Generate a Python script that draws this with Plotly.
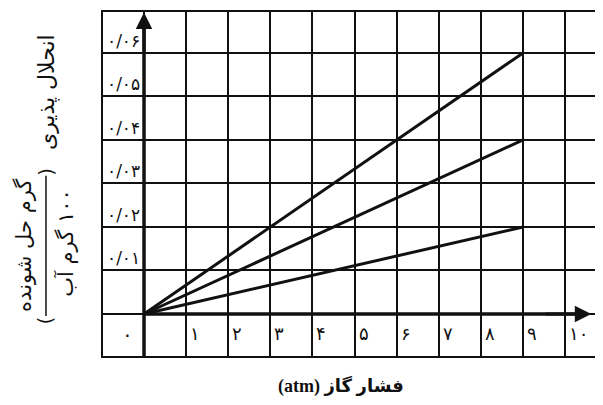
import plotly.graph_objects as go

# pressure (atm) and solubility (g solute / 100 g water)
pressure = [0, 9]
line_low = [0, 0.02]
line_mid = [0, 0.04]
line_high = [0, 0.06]

x_ticks = [0, 1, 2, 3, 4, 5, 6, 7, 8, 9, 10]
x_labels = ["۰", "۱", "۲", "۳", "۴", "۵", "۶", "۷", "۸", "۹", "۱۰"]
y_ticks = [0.01, 0.02, 0.03, 0.04, 0.05, 0.06]
y_labels = ["۰/۰۱", "۰/۰۲", "۰/۰۳", "۰/۰۴", "۰/۰۵", "۰/۰۶"]

INK = "#111111"
FONT = "DejaVu Sans"

fig = go.Figure()
for ys in (line_low, line_mid, line_high):
    fig.add_trace(go.Scatter(
        x=pressure, y=ys, mode="lines",
        line=dict(color=INK, width=3), showlegend=False, hoverinfo="skip",
    ))

# axis lines with arrow heads
fig.add_shape(type="line", x0=0, x1=10.45, y0=0, y1=0,
              line=dict(color=INK, width=3.5), layer="above")
fig.add_shape(type="line", x0=0, x1=0, y0=-0.0097, y1=0.066,
              line=dict(color=INK, width=3.5), layer="above")
fig.add_annotation(x=10.62, y=0, ax=9.5, ay=0, axref="x", ayref="y",
                   showarrow=True, arrowhead=2, arrowsize=1.1, arrowwidth=3,
                   arrowcolor=INK, text="")
fig.add_annotation(x=0, y=0.0693, ax=0, ay=0.06, axref="x", ayref="y",
                   showarrow=True, arrowhead=2, arrowsize=1.1, arrowwidth=3,
                   arrowcolor=INK, text="")

# tick labels inside the grid cells
for xv, lab in zip(x_ticks, x_labels):
    if xv == 0:
        fig.add_annotation(x=0, y=0, text=lab, showarrow=False,
                           xanchor="right", yanchor="middle",
                           xshift=-9, yshift=-20,
                           font=dict(family=FONT, size=20, color=INK))
    else:
        fig.add_annotation(x=xv, y=0, text=lab, showarrow=False,
                           xanchor="left", yanchor="middle",
                           xshift=2, yshift=-19,
                           font=dict(family=FONT, size=18, color=INK))
for yv, lab in zip(y_ticks, y_labels):
    fig.add_annotation(x=0, y=yv, text=lab, showarrow=False,
                       xanchor="right", yanchor="bottom",
                       xshift=-2, yshift=0,
                       font=dict(family=FONT, size=17, color=INK))

# axis titles
def side_text(text, x, y, size=21, angle=-90):
    fig.add_annotation(xref="paper", yref="paper", x=x, y=y, text=text,
                       textangle=angle, showarrow=False,
                       xanchor="center", yanchor="middle",
                       font=dict(family=FONT, size=size, color=INK))

fig.add_annotation(xref="paper", yref="paper", x=0.478, y=-0.088,
                   xanchor="center", yanchor="middle",
                   text="<b>(atm) فشار گاز</b>", showarrow=False,
                   font=dict(family="Liberation Serif, DejaVu Sans", size=18, color=INK))
side_text("انحلال پذیری", -0.112, 0.768, size=22)
side_text("گرم حل شونده", -0.160, 0.321, size=21)
side_text("\u200f۱۰۰ گرم آب", -0.076, 0.327, size=21)
side_text(")", -0.116, 0.536, size=20)
side_text("(", -0.116, 0.104, size=20)
fig.add_shape(type="line", xref="paper", yref="paper",
              x0=-0.1145, x1=-0.1145, y0=0.116, y1=0.524,
              line=dict(color=INK, width=1.5))

fig.update_xaxes(range=[-0.974, 10.85], tick0=0, dtick=1, showticklabels=False,
                 ticks="", showgrid=True, gridcolor=INK, gridwidth=1.6,
                 zeroline=False, showline=True, linecolor=INK, linewidth=1.6,
                 mirror=True)
fig.update_yaxes(range=[-0.00965, 0.0694], tick0=0, dtick=0.01, showticklabels=False,
                 ticks="", showgrid=True, gridcolor=INK, gridwidth=1.6,
                 zeroline=False, showline=True, linecolor=INK, linewidth=1.6,
                 mirror=True)
# page body adds an 8px offset, so the figure is 8px smaller on each side
fig.update_layout(
    width=595, height=397,
    margin=dict(l=95, r=0, t=4, b=49),
    plot_bgcolor="white", paper_bgcolor="white",
)

fig.write_html("out.html")
